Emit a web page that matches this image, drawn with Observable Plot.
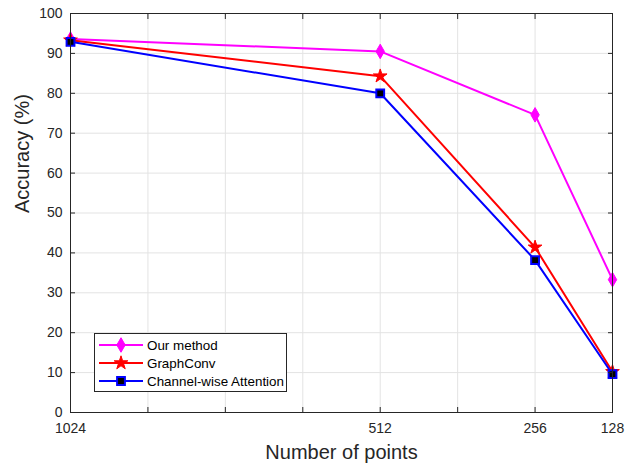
<!DOCTYPE html>
<html><head><meta charset="utf-8">
<script src="https://cdn.jsdelivr.net/npm/d3@7"></script>
<script src="https://cdn.jsdelivr.net/npm/@observablehq/plot@0.6"></script>
<style>
body{margin:0;background:#fff;}
#wrap{position:relative;width:632px;height:464px;font-family:"Liberation Sans",Arial,sans-serif;}
#legend{position:absolute;left:94px;top:333px;width:193px;height:59px;border:1px solid #262626;background:#fff;box-sizing:border-box;padding-top:2px;}
.row{display:flex;align-items:center;height:18px;white-space:nowrap;}
.row span{font-size:13.4px;color:#000;margin-left:0px;white-space:nowrap;}
</style></head><body><div id="wrap"></div>
<script>
const points = [1024, 512, 256, 128];
const ourMethod = [93.6, 90.5, 74.6, 33.3];
const graphConv = [93.3, 84.3, 41.4, 10.2];
const channelAtt = [92.9, 80.0, 38.2, 9.6];
const seriesNames = ["Our method", "GraphConv", "Channel-wise Attention"];
const xTicks = [1024, 896, 768, 640, 512, 384, 256, 128];
const xTickLabels = [1024, 512, 256, 128];
const yTicks = [0, 10, 20, 30, 40, 50, 60, 70, 80, 90, 100];

const colors = ["#ff00ff", "#ff0000", "#0000ff"];
const symbols = ["diamond", "star", "square"];
const radii = [4.4, 4.3, 4.4];
const fills = ["#ff00ff", "#ff0000", "#000000"];
const allVals = [ourMethod, graphConv, channelAtt];

const data = [];
allVals.forEach((vals, s) => vals.forEach((v, i) => data.push({series: seriesNames[s], n: points[i], acc: v})));

const font = '"Liberation Sans", Arial, sans-serif';

const marks = [
  Plot.gridX(xTicks, {stroke: "#e3e3e3", strokeOpacity: 1}),
  Plot.gridY(yTicks, {stroke: "#e3e3e3", strokeOpacity: 1}),
];
seriesNames.forEach((name, s) => {
  const d = data.filter(r => r.series === name);
  marks.push(Plot.line(d, {x: "n", y: "acc", stroke: colors[s], strokeWidth: 2}));
  marks.push(Plot.dot(d, {x: "n", y: "acc", symbol: () => symbols[s], r: radii[s], fill: fills[s], stroke: colors[s], strokeWidth: s === 2 ? 2 : 1}));
});
marks.push(
  Plot.frame({stroke: "#262626", strokeOpacity: 1}),
  Plot.axisX(xTicks, {anchor: "bottom", tickSize: -5, tickFormat: () => "", stroke: "#262626"}),
  Plot.axisX(xTicks, {anchor: "top", tickSize: -5, tickFormat: () => "", stroke: "#262626"}),
  Plot.axisX(xTickLabels, {anchor: "bottom", tickSize: 0, tickPadding: 11, tickFormat: d => String(d), fill: "#262626", fontSize: 14}),
  Plot.axisY(yTicks, {anchor: "left", tickSize: -5, tickFormat: () => "", stroke: "#262626"}),
  Plot.axisY(yTicks, {anchor: "right", tickSize: -5, tickFormat: () => "", stroke: "#262626"}),
  Plot.axisY(yTicks, {anchor: "left", tickSize: 0, tickPadding: 8, fill: "#262626", fontSize: 14}),
  Plot.text(["Accuracy (%)"], {frameAnchor: "left", dx: -48, rotate: -90, fontSize: 20, fill: "#262626"}),
  Plot.text(["Number of points"], {frameAnchor: "bottom", dy: 46, fontSize: 20, fill: "#262626"})
);

const chart = Plot.plot({
  width: 632, height: 464,
  marginLeft: 70, marginRight: 20, marginTop: 13, marginBottom: 52,
  style: {fontFamily: font, fontSize: "14px", background: "#fff", color: "#262626"},
  x: {type: "linear", domain: [1024, 128], label: null, axis: null},
  y: {domain: [0, 100], label: null, axis: null},
  marks
});
const wrap = document.getElementById("wrap");
wrap.appendChild(chart);

// legend
const legend = document.createElement("div");
legend.id = "legend";
seriesNames.forEach((name, s) => {
  const row = document.createElement("div");
  row.className = "row";
  const sw = d3.create("svg").attr("width", 52).attr("height", 18);
  sw.append("line").attr("x1", 4).attr("x2", 48).attr("y1", 9).attr("y2", 9).attr("stroke", colors[s]).attr("stroke-width", 2);
  const sym = {diamond: d3.symbolDiamond, star: d3.symbolStar, square: d3.symbolSquare}[symbols[s]];
  sw.append("path").attr("d", d3.symbol(sym, Math.PI * radii[s] * radii[s])()).attr("transform", "translate(26,9)")
    .attr("fill", fills[s]).attr("stroke", colors[s]).attr("stroke-width", s === 2 ? 2 : 1);
  row.appendChild(sw.node());
  const t = document.createElement("span");
  t.textContent = name;
  row.appendChild(t);
  legend.appendChild(row);
});
wrap.appendChild(legend);
</script>
</body></html>
